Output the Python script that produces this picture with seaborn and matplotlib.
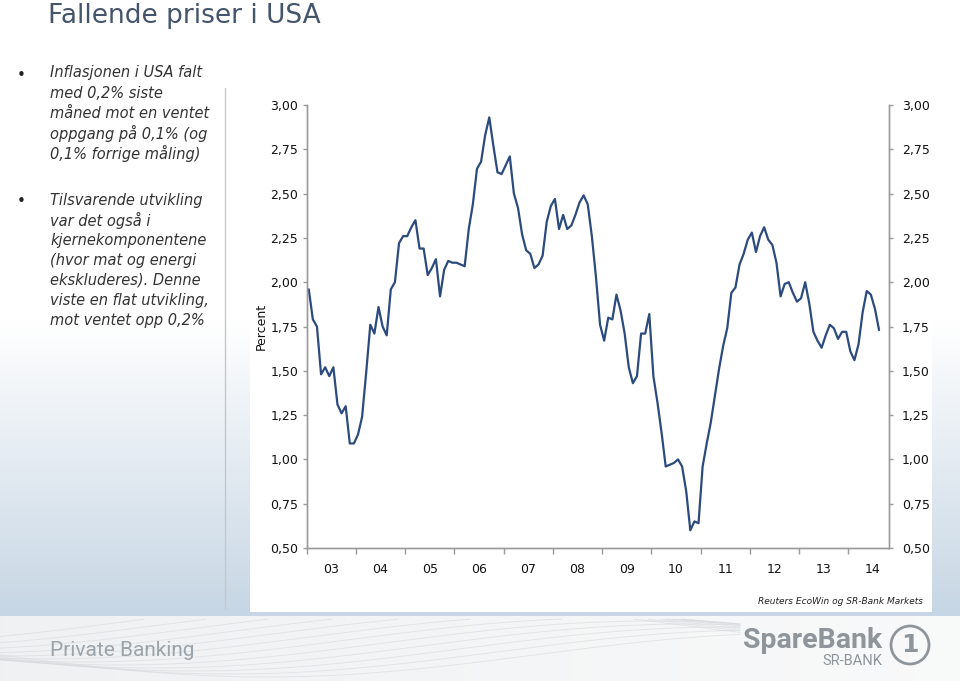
import numpy as np
import pandas as pd
import matplotlib.pyplot as plt
import seaborn as sns
from matplotlib.patches import Circle

# kjerne-KPI USA, år/år, månedlig jan 2003 - aug 2014
core_cpi = [
    1.96, 1.79, 1.75, 1.48, 1.52, 1.47, 1.52, 1.31, 1.26, 1.30, 1.09, 1.09,  # 2003
    1.14, 1.24, 1.49, 1.76, 1.71, 1.86, 1.75, 1.70, 1.96, 2.00, 2.22, 2.26,  # 2004
    2.26, 2.31, 2.35, 2.19, 2.19, 2.04, 2.08, 2.13, 1.92, 2.07, 2.12, 2.11,  # 2005
    2.11, 2.10, 2.09, 2.30, 2.44, 2.64, 2.68, 2.83, 2.93, 2.77, 2.62, 2.61,  # 2006
    2.66, 2.71, 2.50, 2.42, 2.27, 2.18, 2.16, 2.08, 2.10, 2.15, 2.34, 2.43,  # 2007
    2.47, 2.30, 2.38, 2.30, 2.32, 2.38, 2.45, 2.49, 2.44, 2.26, 2.03, 1.76,  # 2008
    1.67, 1.80, 1.79, 1.93, 1.84, 1.71, 1.52, 1.43, 1.47, 1.71, 1.71, 1.82,  # 2009
    1.47, 1.32, 1.15, 0.96, 0.97, 0.98, 1.00, 0.96, 0.82, 0.60, 0.65, 0.64,  # 2010
    0.96, 1.09, 1.21, 1.36, 1.51, 1.64, 1.74, 1.94, 1.97, 2.10, 2.16, 2.24,  # 2011
    2.28, 2.17, 2.26, 2.31, 2.24, 2.21, 2.11, 1.92, 1.99, 2.00, 1.94, 1.89,  # 2012
    1.91, 2.00, 1.88, 1.72, 1.67, 1.63, 1.70, 1.76, 1.74, 1.68, 1.72, 1.72,  # 2013
    1.61, 1.56, 1.65, 1.83, 1.95, 1.93, 1.85, 1.73,                          # 2014
]
first_month = "2003-01"
years = list(range(2003, 2015))
year_labels = ["03", "04", "05", "06", "07", "08", "09", "10", "11", "12", "13", "14"]
y_ticks = [0.50, 0.75, 1.00, 1.25, 1.50, 1.75, 2.00, 2.25, 2.50, 2.75, 3.00]

title = "Fallende priser i USA"
bullet1 = ["Inflasjonen i USA falt", "med 0,2% siste", "måned mot en ventet",
           "oppgang på 0,1% (og", "0,1% forrige måling)"]
bullet2 = ["Tilsvarende utvikling", "var det også i", "kjernekomponentene",
           "(hvor mat og energi", "ekskluderes). Denne", "viste en flat utvikling,",
           "mot ventet opp 0,2%"]
source = "Reuters EcoWin og SR-Bank Markets"

months = pd.date_range(first_month, periods=len(core_cpi), freq="MS")
df = pd.DataFrame({"t": months.year + (months.month - 0.5) / 12, "cpi": core_cpi})

sns.set_theme(style="white")
plt.rcParams["font.family"] = ["DejaVu Sans"]

W, H = 960, 681
fig = plt.figure(figsize=(W / 100, H / 100), dpi=100)

# bakgrunn: hvitt panel, blågrå gradient på sidene, bunntekst-felt
img = np.ones((H, W, 3))
blue = np.array([0.78, 0.84, 0.895])
t = np.clip((np.arange(H) - 320) / (612 - 320), 0, 1)[:, None]
side = (1 - t) + t * blue
img[:, :250] = side[:, None, :]
img[:, 932:] = side[:, None, :]
tf = np.linspace(0, 1, W)[None, :, None]
img[616:, :] = (1 - tf) * np.array([0.94, 0.945, 0.95]) + tf * np.array([0.975, 0.978, 0.98])
img[612:616, :] = blue
bg = fig.add_axes([0, 0, 1, 1], zorder=0)
bg.imshow(img, extent=[0, W, H, 0], aspect="auto")
bg.set_xlim(0, W)
bg.set_ylim(H, 0)
bg.axis("off")
bg.plot([225, 225], [88, 608], color="#c4c8cc", lw=1)
# svake bølgelinjer i bunnfeltet
xs = np.linspace(0, 740, 300)
for k in range(12):
    wave = 655 + 22 * np.sin(xs / 170 + k * 0.22) - k * 3
    wave[wave < 619] = np.nan
    bg.plot(xs, wave, color="#d6dadd", lw=0.7, alpha=0.6)

bg.text(48, 23, title, fontsize=19, color="#44546a", va="baseline", ha="left")
for i, line in enumerate(bullet1):
    bg.text(50, 73 + i * 20, line, fontsize=10.5, style="italic", color="#333333", va="center")
for i, line in enumerate(bullet2):
    bg.text(50, 200 + i * 20, line, fontsize=10.5, style="italic", color="#333333", va="center")
bg.text(17, 75, "•", fontsize=11, color="#222222", va="center")
bg.text(17, 202, "•", fontsize=11, color="#222222", va="center")

bg.text(923, 601, source, fontsize=6.5, style="italic", color="#222222", ha="right", va="center")
bg.text(50, 650, "Private Banking", fontsize=15, color="#9ca4ab", va="center",
        family=["Roboto", "DejaVu Sans"])
bg.text(882, 640, "SpareBank", fontsize=20.5, color="#8e959b", fontweight="bold", ha="right",
        va="center", family=["Roboto", "DejaVu Sans"])
bg.text(882, 661, "SR-BANK", fontsize=10.5, color="#8e959b", ha="right", va="center",
        family=["Roboto", "DejaVu Sans"])
bg.add_patch(Circle((910, 645), 19, fill=False, ec="#8e959b", lw=2))
bg.text(910, 645, "1", fontsize=18, color="#8e959b", fontweight="bold", ha="center", va="center")

# diagram
ax = fig.add_axes([306.7 / W, 1 - 548 / H, (889.3 - 306.7) / W, (548 - 105) / H], zorder=2)
ax.patch.set_alpha(0)
sns.lineplot(data=df, x="t", y="cpi", ax=ax, color="#2b4b7e", linewidth=1.6)
ax.set_xlim(2003, 2014 + 10 / 12)
ax.set_ylim(0.5, 3.0)

fmt = [f"{v:.2f}".replace(".", ",") for v in y_ticks]
ax.set_yticks(y_ticks)
ax.set_yticklabels(fmt)
ax.set_xticks(years)
ax.set_xticklabels([])
ax.set_xticks([y + 0.5 for y in years], minor=True)
ax.set_xticklabels(year_labels, minor=True)
ax.tick_params(axis="x", which="major", length=4, width=1, color="#9a9a9a", direction="out", bottom=True)
ax.tick_params(axis="x", which="minor", length=0, pad=11, labelsize=9, labelcolor="#111111")
ax.tick_params(axis="y", length=3, width=1, color="#9a9a9a", direction="out", left=True,
               labelsize=9, labelcolor="#111111", pad=3)
ax.set_xlabel("")
ax.set_ylabel("Percent", fontsize=9, color="#111111")
ax.yaxis.set_label_coords(-0.066, 0.5)

ax2 = ax.twinx()
ax2.set_ylim(0.5, 3.0)
ax2.set_yticks(y_ticks)
ax2.set_yticklabels(fmt)
ax2.tick_params(axis="y", length=3, width=1, color="#9a9a9a", direction="out", right=True,
                labelsize=9, labelcolor="#111111", pad=6)

for a in (ax, ax2):
    a.spines["top"].set_visible(False)
    for s in ("left", "right", "bottom"):
        a.spines[s].set_color("#9a9a9a")
        a.spines[s].set_linewidth(1)

fig.savefig("out.png", dpi=100)
